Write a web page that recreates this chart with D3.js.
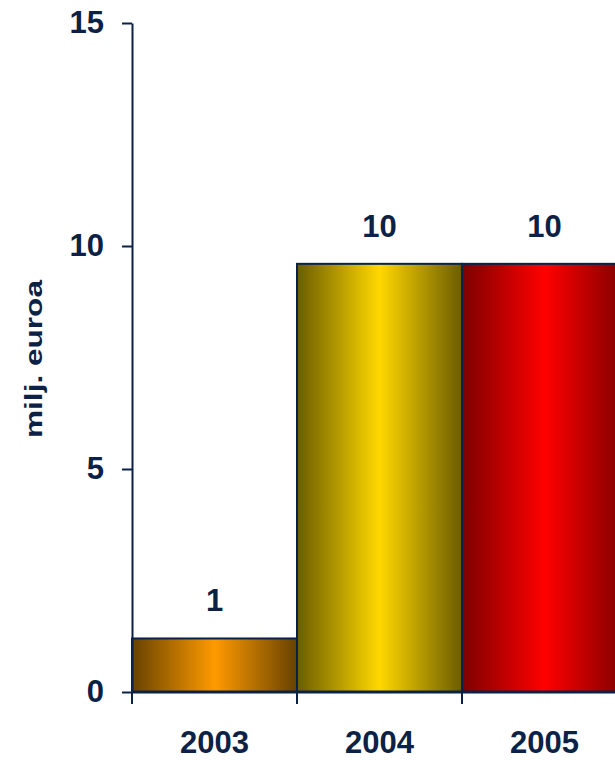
<!DOCTYPE html>
<html>
<head>
<meta charset="utf-8">
<script src="https://cdn.jsdelivr.net/npm/d3@7/dist/d3.min.js"></script>
<style>
  body { margin: 0; background: #fff; }
  svg { display: block; }
</style>
</head>
<body>
<div id="chart"></div>
<script>
const years = ["2003", "2004", "2005"];
const values = [1.2, 9.6, 9.6];
const valueLabels = ["1", "10", "10"];
const yTicks = [0, 5, 10, 15];
const barLight = ["#ff9a00", "#ffd800", "#ff0000"];
const barDark = ["#674200", "#6b5c00", "#7c0000"];

const width = 615, height = 760;
const navy = "#0b2246";
const font = "'Liberation Sans', Arial, sans-serif";

const x0 = 132, step = 165, y0 = 692, yTop = 23;

const x = d3.scaleBand()
    .domain(years)
    .range([x0, x0 + step * years.length])
    .padding(0);

const y = d3.scaleLinear()
    .domain([0, 15])
    .range([y0, yTop]);

const svg = d3.select("#chart")
    .append("svg")
    .attr("width", width)
    .attr("height", height);

// gradients dark-light-dark across each bar
const defs = svg.append("defs");
years.forEach((yr, i) => {
    const g = defs.append("linearGradient")
        .attr("id", "grad" + i)
        .attr("x1", "0%").attr("x2", "100%")
        .attr("y1", "0%").attr("y2", "0%");
    g.append("stop").attr("offset", "0%").attr("stop-color", barDark[i]);
    g.append("stop").attr("offset", "50%").attr("stop-color", barLight[i]);
    g.append("stop").attr("offset", "100%").attr("stop-color", barDark[i]);
});

svg.selectAll(".bar")
    .data(years)
    .enter().append("rect")
    .attr("class", "bar")
    .attr("x", d => x(d))
    .attr("y", (d, i) => y(values[i]))
    .attr("width", x.bandwidth())
    .attr("height", (d, i) => y(0) - y(values[i]))
    .attr("fill", (d, i) => `url(#grad${i})`)
    .attr("stroke", navy)
    .attr("stroke-width", 2);

// value labels
svg.selectAll(".val")
    .data(years)
    .enter().append("text")
    .attr("class", "val")
    .attr("x", d => x(d) + x.bandwidth() / 2)
    .attr("y", (d, i) => y(values[i]) - 27)
    .attr("text-anchor", "middle")
    .attr("fill", navy)
    .style("font-family", font)
    .style("font-weight", "bold")
    .style("font-size", "31px")
    .text((d, i) => valueLabels[i]);

// y axis
const yAxis = svg.append("g")
    .attr("transform", `translate(${x0},0)`)
    .call(d3.axisLeft(y).tickValues(yTicks).tickSize(10).tickPadding(18).tickSizeOuter(0));
yAxis.select(".domain").attr("stroke", navy).attr("stroke-width", 2);
yAxis.selectAll(".tick line").attr("stroke", navy).attr("stroke-width", 2);
yAxis.selectAll(".tick text")
    .attr("fill", navy)
    .style("font-family", font)
    .style("font-weight", "bold")
    .style("font-size", "31px");

// x axis line and boundary ticks
svg.append("line")
    .attr("x1", x0).attr("x2", width + 20)
    .attr("y1", y0).attr("y2", y0)
    .attr("stroke", navy).attr("stroke-width", 3);

const bounds = years.map(d => x(d)).concat([x.range()[1]]);
svg.selectAll(".xtick")
    .data(bounds)
    .enter().append("line")
    .attr("class", "xtick")
    .attr("x1", d => d).attr("x2", d => d)
    .attr("y1", y0).attr("y2", y0 + 12)
    .attr("stroke", navy).attr("stroke-width", 2);

// x labels
svg.selectAll(".xlab")
    .data(years)
    .enter().append("text")
    .attr("class", "xlab")
    .attr("x", d => x(d) + x.bandwidth() / 2)
    .attr("y", 753)
    .attr("text-anchor", "middle")
    .attr("fill", navy)
    .style("font-family", font)
    .style("font-weight", "bold")
    .style("font-size", "31px")
    .text(d => d);

// y axis title
svg.append("text")
    .attr("transform", "translate(42,359) rotate(-90)")
    .attr("text-anchor", "middle")
    .attr("fill", navy)
    .attr("textLength", 158)
    .attr("lengthAdjust", "spacingAndGlyphs")
    .style("font-family", font)
    .style("font-weight", "bold")
    .style("font-size", "23px")
    .text("milj. euroa");
</script>
</body>
</html>
